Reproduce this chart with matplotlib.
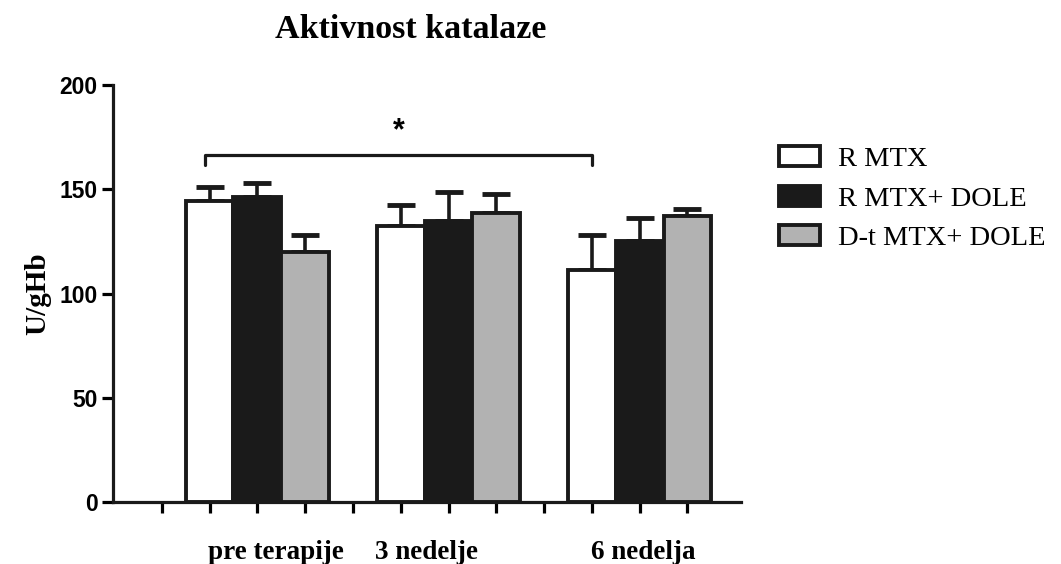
import matplotlib.pyplot as plt
import numpy as np

# podaci
grupe = ["pre terapije", "3 nedelje", "6 nedelja"]
serije = ["R MTX", "R MTX+ DOLE", "D-t MTX+ DOLE"]
r_mtx = [144.2, 132.2, 111.4]
r_mtx_err = [6.8, 10.1, 16.8]
r_dole = [146.3, 134.6, 125.0]
r_dole_err = [6.8, 14.3, 11.0]
dt_dole = [119.9, 138.6, 137.0]
dt_dole_err = [8.3, 9.3, 3.7]

boje = ["white", "#1a1a1a", "#b2b2b2"]
vrednosti = [r_mtx, r_dole, dt_dole]
greske = [r_mtx_err, r_dole_err, dt_dole_err]

fig = plt.figure(figsize=(10.61, 5.64), dpi=100)
ax = fig.add_axes([0.1065, 0.1099, 0.5919, 0.7394])

lw = 2.3
for s in range(3):
    pos = np.arange(3) * 4 + 1 + s
    ax.bar(pos, vrednosti[s], width=1.0, color=boje[s], edgecolor="#1a1a1a",
           linewidth=2.8, label=serije[s], zorder=2)
    ax.errorbar(pos, vrednosti[s], yerr=[np.zeros(3), greske[s]], fmt="none",
                ecolor="#1a1a1a", elinewidth=2.6, capsize=10, capthick=3.5, zorder=1)

ax.set_xlim(-1.02, 12.12)
ax.set_ylim(0, 200)
ax.set_xticks(np.arange(12))
ax.set_xticklabels([])
ax.set_yticks([0, 50, 100, 150, 200])
ax.tick_params(axis="x", length=8, width=lw, direction="out")
ax.tick_params(axis="y", length=8, width=lw, direction="out", pad=3)
for lab in ax.get_yticklabels():
    lab.set_fontfamily("Liberation Sans")
    lab.set_fontweight("bold")
    lab.set_fontsize(16.5)

for side in ["top", "right"]:
    ax.spines[side].set_visible(False)
for side in ["left", "bottom"]:
    ax.spines[side].set_linewidth(lw)
    ax.spines[side].set_color("#1a1a1a")

# nazivi grupa
lab_x = [2.39, 5.53, 10.07]
for x, g in zip(lab_x, grupe):
    ax.text(x, -24, g, ha="center", va="center", fontsize=19.5,
            fontfamily="Liberation Serif", fontweight="bold", clip_on=False)

ax.set_ylabel("U/gHb", fontsize=21, fontfamily="Liberation Serif",
              fontweight="bold", labelpad=6)

# zagrada i zvezdica
ax.plot([0.9, 0.9, 9.0, 9.0], [161.5, 166.3, 166.3, 161.5], color="#1a1a1a",
        linewidth=lw, solid_capstyle="round", clip_on=False)
ax.text(4.96, 178, "*", ha="center", va="center", fontsize=22,
        fontfamily="Liberation Sans", fontweight="bold")

fig.text(0.387, 0.947, "Aktivnost katalaze", ha="center", va="center",
         fontsize=24.5, fontfamily="Liberation Serif", fontweight="bold")

leg = ax.legend(loc="upper left", bbox_to_anchor=(1.02, 0.915), frameon=False,
                prop={"family": "Liberation Serif", "size": 20.5},
                handlelength=1.45, handleheight=0.7, handletextpad=0.6,
                labelspacing=0.48)

fig.savefig("out.png", dpi=100)
